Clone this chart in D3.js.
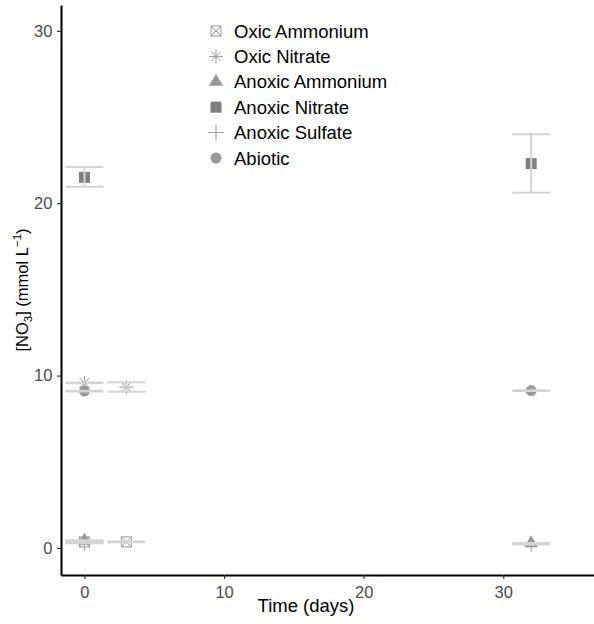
<!DOCTYPE html>
<html>
<head>
<meta charset="utf-8">
<script src="https://cdn.jsdelivr.net/npm/d3@7"></script>
<style>
  body { margin: 0; background: #fff; }
  text { font-family: "Liberation Sans", Arial, Helvetica, sans-serif; }
</style>
</head>
<body>
<div id="chart"></div>
<script>
var width = 594;
var height = 624;

// series names, in legend order
var series = ["Oxic Ammonium", "Oxic Nitrate", "Anoxic Ammonium", "Anoxic Nitrate", "Anoxic Sulfate", "Abiotic"];

// measurements: series, day, mean, lower, upper
var rowSeries = ["Oxic Ammonium", "Oxic Ammonium", "Oxic Nitrate", "Oxic Nitrate",
                 "Anoxic Ammonium", "Anoxic Ammonium", "Anoxic Nitrate", "Anoxic Nitrate",
                 "Anoxic Sulfate", "Anoxic Sulfate", "Abiotic", "Abiotic"];
var rowDay   = [0, 3, 0, 3, 0, 32, 0, 32, 0, 32, 0, 32];
var rowMean  = [0.35, 0.35, 9.58, 9.33, 0.42, 0.27, 21.5, 22.3, 0.3, 0.22, 9.1, 9.13];
var rowLow   = [0.32, 0.33, 9.55, 9.06, 0.37, 0.25, 20.95, 20.6, 0.27, 0.2, 9.07, 9.11];
var rowHigh  = [0.38, 0.37, 9.6, 9.62, 0.45, 0.29, 22.1, 24.0, 0.33, 0.24, 9.12, 9.15];

var xTicks = [0, 10, 20, 30];
var yTicks = [0, 10, 20, 30];

var rows = rowSeries.map(function(s, i) {
    return { s: s, day: rowDay[i], mean: rowMean[i], lo: rowLow[i], hi: rowHigh[i] };
});

var margin = { left: 61, top: 5, right: 0, bottom: 49 };

var x = d3.scaleLinear().domain([-1.68, 36.5]).range([margin.left, width - margin.right]);
var y = d3.scaleLinear().domain([-1.57, 31.5]).range([height - margin.bottom, margin.top]);

var svg = d3.select("#chart")
    .append("svg")
    .attr("width", width)
    .attr("height", height);

// marker drawing per series
function drawMarker(g, s) {
    if (s == "Oxic Ammonium") {
        g.append("rect").attr("x", -5).attr("y", -5).attr("width", 10).attr("height", 10)
            .attr("fill", "none").attr("stroke", "#999").attr("stroke-width", 1);
        g.append("path").attr("d", "M-5,-5L5,5M5,-5L-5,5")
            .attr("stroke", "#999").attr("stroke-width", 1);
    } else if (s == "Oxic Nitrate") {
        g.append("path").attr("d", "M-7,0L7,0M-5,-5L5,5M5,-5L-5,5M0,-7L0,7")
            .attr("stroke", "#999").attr("stroke-width", 1);
    } else if (s == "Anoxic Ammonium") {
        g.append("path").attr("d", d3.symbol(d3.symbolTriangle, 85)())
            .attr("fill", "#999");
    } else if (s == "Anoxic Nitrate") {
        g.append("rect").attr("x", -5.5).attr("y", -5.5).attr("width", 11).attr("height", 11)
            .attr("fill", "#7f7f7f");
    } else if (s == "Anoxic Sulfate") {
        g.append("path").attr("d", "M-8,0L8,0M0,-8L0,8")
            .attr("stroke", "#999").attr("stroke-width", 1);
    } else {
        g.append("circle").attr("r", 5.5).attr("fill", "#999");
    }
}

// axes
var xAxis = svg.append("g")
    .attr("transform", "translate(0," + (height - margin.bottom) + ")")
    .call(d3.axisBottom(x).tickValues(xTicks).tickSize(4).tickSizeOuter(0));
var yAxis = svg.append("g")
    .attr("transform", "translate(" + margin.left + ",0)")
    .call(d3.axisLeft(y).tickValues(yTicks).tickSize(4).tickSizeOuter(0));

[xAxis, yAxis].forEach(function(a) {
    a.select(".domain").attr("stroke", "#000").attr("stroke-width", 2);
    a.selectAll(".tick line").attr("stroke", "#333").attr("stroke-width", 1.2);
    a.selectAll(".tick text").attr("fill", "#4d4d4d").style("font-size", "16.5px");
});
xAxis.selectAll(".tick text").attr("dy", "0.95em");
yAxis.selectAll(".tick text").attr("dx", "-0.1em");

// points
var pts = svg.append("g");
rows.forEach(function(d) {
    var g = pts.append("g").attr("transform", "translate(" + x(d.day) + "," + y(d.mean) + ")");
    drawMarker(g, d.s);
});

// error bars on top
var capHalf = x(1.36) - x(0);
var eb = svg.append("g")
    .attr("stroke", "#d4d4d4")
    .attr("stroke-width", 2)
    .attr("fill", "none");
rows.forEach(function(d) {
    var cx = x(d.day);
    eb.append("path").attr("d",
        "M" + (cx - capHalf) + "," + y(d.hi) + "H" + (cx + capHalf) +
        "M" + (cx - capHalf) + "," + y(d.lo) + "H" + (cx + capHalf) +
        "M" + cx + "," + y(d.hi) + "V" + y(d.lo));
});

// legend
var legend = svg.append("g");
series.forEach(function(s, i) {
    var cy = 31 + i * 25.4;
    var g = legend.append("g").attr("transform", "translate(216," + cy + ")");
    drawMarker(g, s);
    legend.append("text")
        .attr("x", 234)
        .attr("y", cy + 6.5)
        .attr("fill", "#000")
        .style("font-size", "18.5px")
        .text(s);
});

// axis titles
svg.append("text")
    .attr("x", 306)
    .attr("y", 612)
    .attr("text-anchor", "middle")
    .style("font-size", "18.5px")
    .text("Time (days)");

var yl = svg.append("text")
    .attr("transform", "translate(28," + ((y.range()[0] + y.range()[1]) / 2) + ") rotate(-90)")
    .attr("text-anchor", "middle")
    .style("font-size", "16.5px");
yl.append("tspan").text("[NO");
yl.append("tspan").attr("dy", 4).style("font-size", "11.5px").text("3");
yl.append("tspan").attr("dy", -4).text("] (mmol L");
yl.append("tspan").attr("dy", -7).style("font-size", "11.5px").text("\u22121");
yl.append("tspan").attr("dy", 7).text(")");
</script>
</body>
</html>
